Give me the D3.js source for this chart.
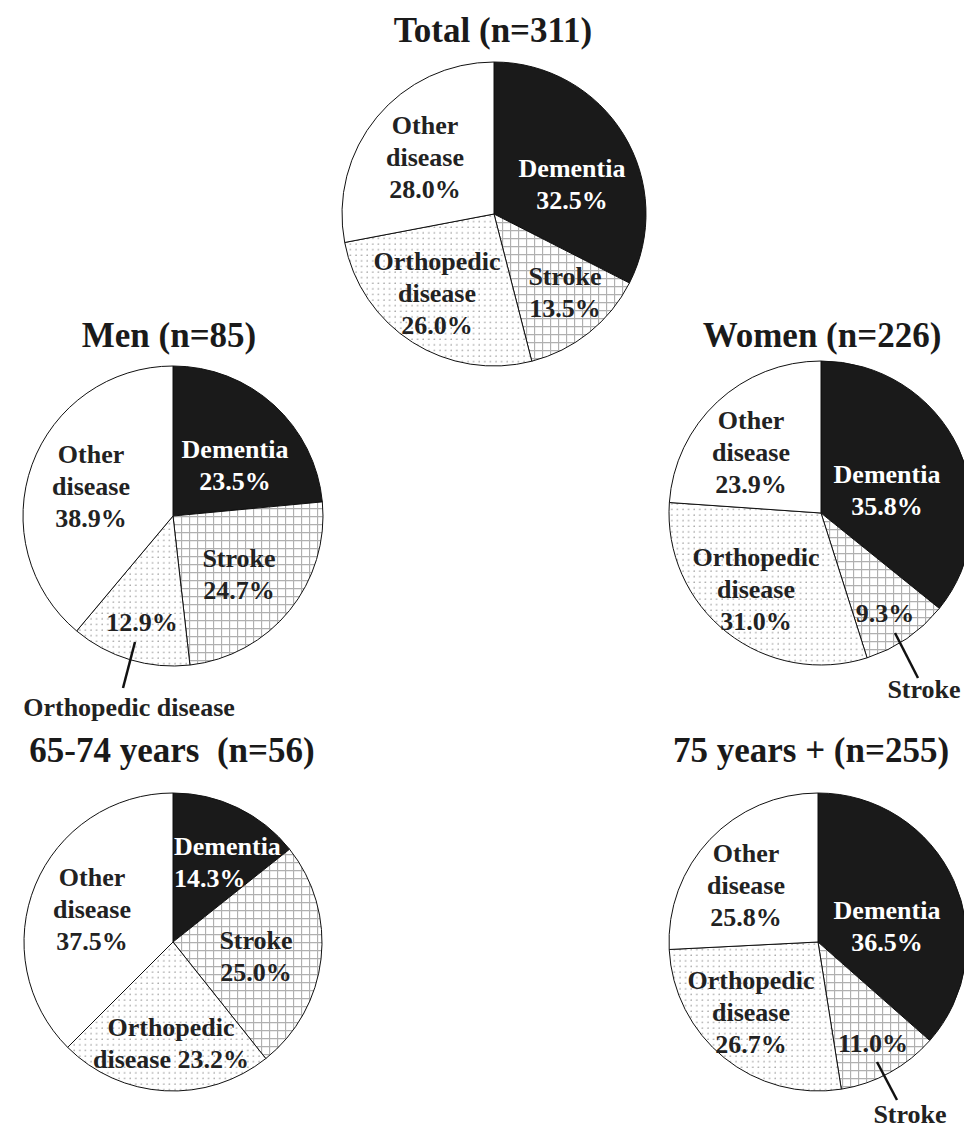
<!DOCTYPE html>
<html>
<head>
<meta charset="utf-8">
<script src="https://cdn.jsdelivr.net/npm/d3@7"></script>
<style>
  html, body { margin: 0; padding: 0; background: #fff; }
  svg { display: block; }
  text { font-family: "Liberation Serif", "Times New Roman", serif; font-weight: bold; white-space: pre; }
</style>
</head>
<body>
<svg id="chart" width="964" height="1131"></svg>
<script>
// ---- data ----
const categories = ["Dementia", "Stroke", "Orthopedic disease", "Other disease"];
const titles = ["Total (n=311)", "Men (n=85)", "Women (n=226)", "65-74 years  (n=56)", "75 years + (n=255)"];
const totalValues = [32.5, 13.5, 26.0, 28.0];
const menValues = [23.5, 24.7, 12.9, 38.9];
const womenValues = [35.8, 9.3, 31.0, 23.9];
const age6574Values = [14.3, 25.0, 23.2, 37.5];
const age75Values = [36.5, 11.0, 26.7, 25.8];

// ---- layout (positions / styles) ----
const pies = [
  { values: totalValues, title: titles[0], cx: 494, cy: 214, r: 152, titleX: 493, titleY: 42,
    labels: [
      { lines: ["Dementia", "{v}"], dx: 78, dy: -30 },
      { lines: ["Stroke", "{v}"], dx: 71, dy: 78 },
      { lines: ["Orthopedic", "disease", "{v}"], dx: -57, dy: 79 },
      { lines: ["Other", "disease", "{v}"], dx: -69, dy: -57 }
    ] },
  { values: menValues, title: titles[1], cx: 173, cy: 516, r: 150, titleX: 169, titleY: 347,
    labels: [
      { lines: ["Dementia", "{v}"], dx: 62, dy: -51 },
      { lines: ["Stroke", "{v}"], dx: 66, dy: 58 },
      { lines: ["{v}"], dx: -31, dy: 106,
        ext: { text: "Orthopedic disease", x1: -38, y1: 126, x2: -50, y2: 172, tx: -44, ty: 191 } },
      { lines: ["Other", "disease", "{v}"], dx: -82, dy: -30 }
    ] },
  { values: womenValues, title: titles[2], cx: 821, cy: 513, r: 152, titleX: 822, titleY: 347,
    labels: [
      { lines: ["Dementia", "{v}"], dx: 66, dy: -23 },
      { lines: ["{v}"], dx: 64, dy: 100,
        ext: { text: "Stroke", x1: 74, y1: 120, x2: 97, y2: 165, tx: 103, ty: 176 } },
      { lines: ["Orthopedic", "disease", "{v}"], dx: -65, dy: 76 },
      { lines: ["Other", "disease", "{v}"], dx: -70, dy: -61 }
    ] },
  { values: age6574Values, title: titles[3], cx: 173, cy: 942, r: 149, titleX: 172, titleY: 762,
    labels: [
      { lines: ["Dementia", "{v}"], dx: 1, dy: -80, anchor: "start" },
      { lines: ["Stroke", "{v}"], dx: 83, dy: 14 },
      { lines: ["Orthopedic", "disease {v}"], dx: -2, dy: 101 },
      { lines: ["Other", "disease", "{v}"], dx: -81, dy: -33 }
    ] },
  { values: age75Values, title: titles[4], cx: 818, cy: 942, r: 149, titleX: 811, titleY: 762,
    labels: [
      { lines: ["Dementia", "{v}"], dx: 69, dy: -16 },
      { lines: ["{v}"], dx: 55, dy: 101,
        ext: { text: "Stroke", x1: 59, y1: 120, x2: 79, y2: 158, tx: 92, ty: 172 } },
      { lines: ["Orthopedic", "disease", "{v}"], dx: -67, dy: 70 },
      { lines: ["Other", "disease", "{v}"], dx: -72, dy: -57 }
    ] }
];

const svg = d3.select("#chart");
const defs = svg.append("defs");

// grid pattern for Stroke
const grid = defs.append("pattern").attr("id", "grid")
  .attr("patternUnits", "userSpaceOnUse").attr("width", 8).attr("height", 8);
grid.append("rect").attr("width", 8).attr("height", 8).attr("fill", "#fff");
grid.append("path").attr("d", "M0,0.5H8M0.5,0V8")
  .attr("stroke", "#b0b0b0").attr("stroke-width", 1.3).attr("fill", "none");

// dot pattern for Orthopedic
const dots = defs.append("pattern").attr("id", "dots")
  .attr("patternUnits", "userSpaceOnUse").attr("width", 5.6).attr("height", 5.6);
dots.append("rect").attr("width", 5.6).attr("height", 5.6).attr("fill", "#fff");
dots.append("circle").attr("cx", 2).attr("cy", 2).attr("r", 0.65).attr("fill", "#666");

const fillScale = d3.scaleOrdinal()
  .domain(categories)
  .range(["#1a1a1a", "url(#grid)", "url(#dots)", "#fff"]);
const textColor = d3.scaleOrdinal().domain(categories).range(["#fff", "#222", "#222", "#222"]);

const pie = d3.pie().sort(null).value(d => d.value);
const fmt = d3.format(".1f");
const lineH = 32;

pies.forEach(p => {
  const data = categories.map((c, i) => ({ cat: c, value: p.values[i], label: p.labels[i] }));
  const arc = d3.arc().innerRadius(0).outerRadius(p.r);
  const g = svg.append("g").attr("transform", `translate(${p.cx},${p.cy})`);

  g.selectAll("path.slice").data(pie(data)).join("path")
    .attr("class", "slice")
    .attr("d", arc)
    .attr("fill", d => fillScale(d.data.cat))
    .attr("stroke", "#111")
    .attr("stroke-width", 1);

  svg.append("text")
    .attr("x", p.titleX).attr("y", p.titleY)
    .attr("text-anchor", "middle")
    .attr("font-size", 35)
    .attr("fill", "#1a1a1a")
    .text(p.title);

  data.forEach(d => {
    const L = d.label;
    const lines = L.lines.map(s => s.replace("{v}", fmt(d.value) + "%"));
    const n = lines.length;
    const t = g.append("text")
      .attr("text-anchor", L.anchor || "middle")
      .attr("font-size", 26)
      .attr("fill", textColor(d.cat));
    lines.forEach((s, k) => {
      t.append("tspan")
        .attr("x", L.dx)
        .attr("y", L.dy + (k - (n - 1) / 2) * lineH)
        .attr("dy", "0.35em")
        .text(s);
    });
    if (L.ext) {
      g.append("line")
        .attr("x1", L.ext.x1).attr("y1", L.ext.y1)
        .attr("x2", L.ext.x2).attr("y2", L.ext.y2)
        .attr("stroke", "#111").attr("stroke-width", 2.5);
      g.append("text")
        .attr("x", L.ext.tx).attr("y", L.ext.ty).attr("dy", "0.35em")
        .attr("text-anchor", "middle")
        .attr("font-size", 26)
        .attr("fill", "#222")
        .text(L.ext.text);
    }
  });
});
</script>
</body>
</html>
